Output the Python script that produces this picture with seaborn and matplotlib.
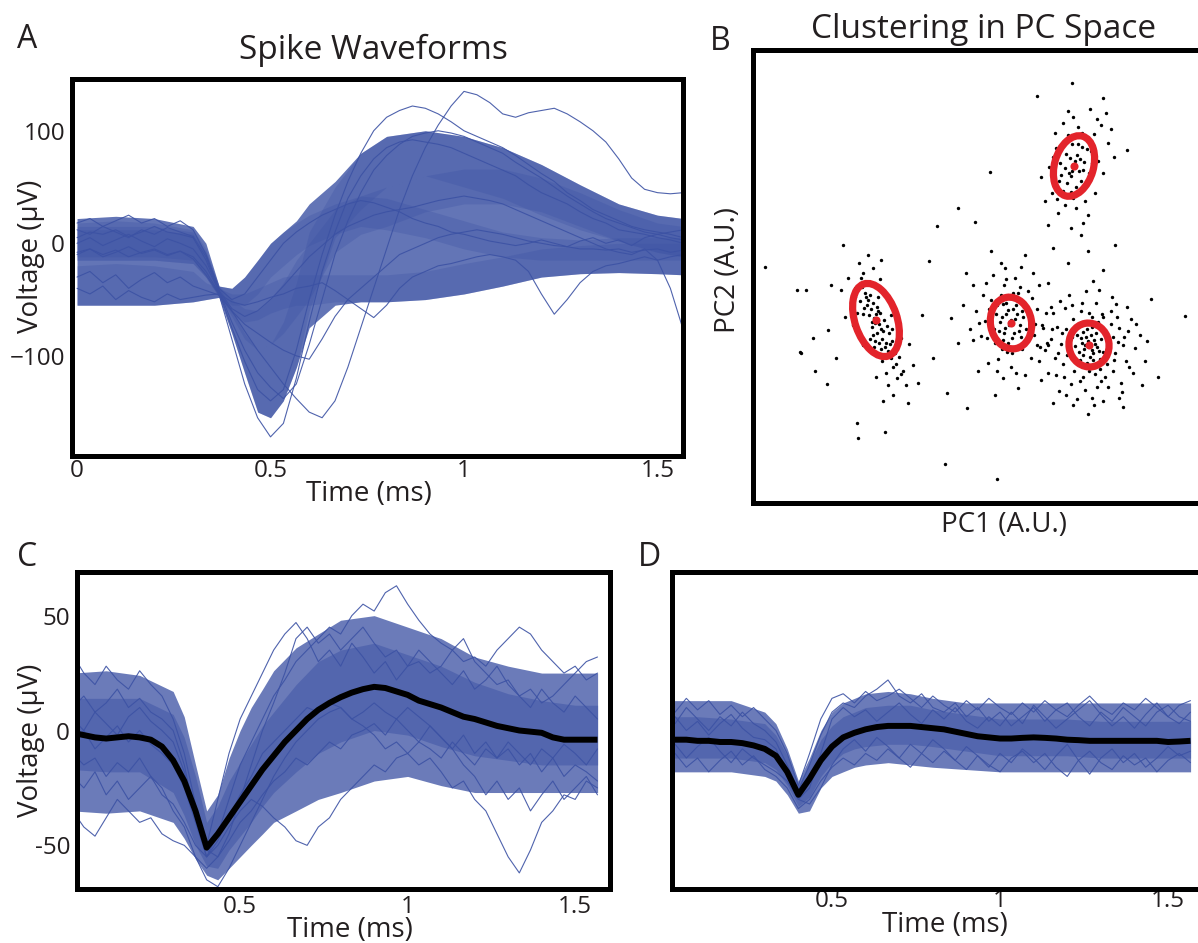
import numpy as np
import pandas as pd
import matplotlib
matplotlib.use("Agg")
import matplotlib.pyplot as plt
from matplotlib.patches import Ellipse
import seaborn as sns

# ------------------------------------------------------------------ data
SAMPLE_RATE_KHZ = 30.0
N_SAMPLES = 48
time_ms = np.arange(N_SAMPLES) / SAMPLE_RATE_KHZ

# envelope nodes (ms) used for the dense bundles of waveforms
band_t = [0, 0.1, 0.2, 0.3, 0.333, 0.367, 0.4, 0.433, 0.467, 0.5, 0.533, 0.567,
          0.6, 0.667, 0.733, 0.8, 0.9, 1.0, 1.1, 1.2, 1.3, 1.4, 1.5, 1.567]

# Panel A: overall envelope of all waveforms plus four unit bundles (uV)
A_all_lo = [-55, -55, -55, -52, -50, -48, -80, -115, -150, -155, -140, -110, -75, -55, -52, -52, -50, -45, -38, -30, -27, -26, -27, -28]
A_all_hi = [22, 24, 22, 15, 0, -38, -40, -30, -15, 0, 10, 20, 35, 55, 80, 95, 100, 95, 85, 70, 52, 35, 25, 22]
A_u1_lo = [-15, -15, -15, -18, -30, -48, -80, -115, -150, -155, -140, -110, -60, 5, 30, 50, 60, 50, 40, 25, 12, 2, -8, -12]
A_u1_hi = [18, 20, 18, 12, -5, -38, -60, -80, -95, -90, -70, -35, 10, 50, 80, 95, 100, 95, 85, 70, 52, 35, 25, 22]
A_u2_lo = [-12, -12, -12, -15, -30, -47, -65, -85, -95, -90, -80, -65, -50, -8, 8, 15, 28, 35, 35, 28, 15, 2, -8, -12]
A_u2_hi = [15, 15, 15, 10, -8, -38, -50, -58, -60, -50, -35, -15, 0, 30, 42, 50, 60, 66, 66, 58, 45, 30, 18, 15]
A_u3_lo = [-15, -15, -15, -18, -30, -47, -55, -55, -45, -30, -20, -10, -2, 8, 15, 12, 5, -5, -12, -15, -15, -15, -15, -15]
A_u3_hi = [12, 12, 12, 8, -8, -38, -40, -30, -15, 0, 10, 18, 25, 35, 42, 40, 30, 20, 10, 5, 3, 5, 5, 5]
A_u4_lo = [-55, -55, -55, -52, -50, -48, -62, -70, -68, -62, -58, -55, -55, -52, -52, -52, -50, -45, -38, -30, -27, -26, -27, -28]
A_u4_hi = [-20, -18, -20, -25, -35, -40, -45, -45, -40, -35, -30, -28, -28, -28, -28, -28, -25, -18, -12, -5, -2, 0, 0, 0]

# Panel A: individual outlying waveforms (uV, one value per sample)
A_tr1 = [-8, -5, -10, -6, -12, -8, -5, -10, -7, -12, -25, -44, -60, -78, -95, -110, -125, -138, -150, -155, -140,
         -110, -75, -40, -5, 30, 60, 85, 105, 122, 135, 132, 125, 115, 112, 116, 118, 120, 115, 108, 100,
         90, 75, 58, 48, 45, 44, 45]
A_tr2 = [5, 10, 8, 12, 6, 10, 15, 10, 8, 5, -15, -43, -75, -105, -130, -140, -130, -95, -50, -10, 25,
         55, 80, 100, 112, 118, 122, 120, 115, 108, 100, 95, 90, 85, 78, 70, 62, 55, 45, 38, 30,
         25, 20, 15, 12, 10, 8, 5]
A_tr3 = [-10, -5, -12, -8, -3, -9, -6, -11, -7, -14, -28, -45, -85, -125, -155, -172, -160, -120, -70, -25, 10,
         40, 60, 75, 85, 90, 92, 90, 88, 85, 80, 75, 70, 65, 60, 52, 45, 40, 35, 28, 22,
         18, 12, 10, 8, 5, 3, 0]
A_tr4 = [-30, -25, -35, -28, -40, -32, -26, -35, -30, -38, -42, -46, -60, -72, -80, -88, -95, -100, -103, -85, -65,
         -50, -40, -30, -20, -10, -5, 0, 5, 8, 10, 12, 10, 8, 5, 2, 0, -2, -3, -5, -5,
         -6, -5, -8, -6, -5, -8, -6]
A_tr5 = [-40, -45, -38, -50, -42, -48, -52, -45, -50, -48, -46, -45, -52, -55, -52, -48, -45, -40, -38, -35, -42,
         -50, -58, -66, -55, -40, -30, -25, -20, -18, -15, -12, -10, -12, -15, -25, -45, -63, -50, -35, -25,
         -20, -18, -15, -12, -15, -12, -10]
A_tr6 = [0, 5, -2, 3, 8, 2, -3, 4, 0, -5, -20, -42, -58, -65, -60, -50, -38, -25, -12, -2, 8,
         15, 20, 25, 28, 30, 32, 35, 38, 40, 42, 40, 38, 35, 30, 25, 20, 15, 10, 5, 0,
         -5, -8, -10, -5, -15, -40, -77]
A_tr7 = [18, 22, 15, 20, 25, 18, 22, 15, 20, 12, -10, -40, -50, -45, -30, -15, 0, 10, 18, 25, 30,
         35, 38, 36, 32, 28, 22, 18, 15, 10, 8, 5, 2, 0, -2, 0, 3, 0, -3, 2, 5,
         0, 3, -2, 5, 8, 10, 12]
A_tr8 = [12, 8, 15, 10, 5, 12, 8, 14, 10, 6, -12, -42, -70, -95, -115, -128, -138, -125, -90, -50, -10,
         20, 45, 65, 78, 88, 95, 98, 100, 98, 95, 90, 85, 80, 72, 65, 58, 50, 42, 35, 28,
         22, 18, 14, 10, 8, 5, 3]

# Panel B: PCA scores (A.U.), one list of (PC1, PC2) per cluster
pts_left = [(12.1, 18.5), (12.6, 17.9), (11.8, 19.4), (13.0, 17.2), (11.5, 20.3), (12.9, 16.4), (12.3, 18.9),
            (11.9, 17.6), (12.7, 19.0), (13.3, 16.0), (11.2, 21.0), (12.0, 20.0), (13.5, 15.2), (12.4, 17.0),
            (11.6, 18.8), (13.1, 18.3), (12.2, 16.2), (11.4, 19.8), (12.8, 15.4), (13.8, 14.5), (10.9, 21.6),
            (12.5, 20.6), (11.0, 18.9), (13.6, 17.0), (12.1, 15.6), (10.7, 20.2), (13.9, 16.2), (11.3, 22.1),
            (12.9, 14.2), (14.2, 15.0), (10.4, 19.0), (12.6, 21.5), (14.0, 13.6), (11.0, 23.0), (13.3, 13.0),
            (10.2, 21.5), (14.6, 14.6), (9.8, 20.0), (12.0, 23.5), (14.4, 12.5), (13.8, 18.8), (10.5, 17.2),
            (15.0, 13.2), (9.5, 22.5), (12.8, 24.3), (14.8, 16.5), (10.0, 17.8), (13.5, 11.8), (11.5, 24.8),
            (15.3, 11.8), (9.2, 18.6), (14.0, 10.8), (16.0, 13.8), (8.8, 21.3), (11.0, 15.8), (15.6, 15.9),
            (12.3, 12.6), (10.6, 24.0), (13.0, 10.2), (16.5, 12.0),
            (12.2, 18.0), (12.5, 19.2), (11.9, 18.1), (12.8, 17.4), (11.7, 20.8), (13.2, 15.6), (12.4, 19.6),
            (11.3, 20.6), (13.4, 17.7), (12.0, 16.8), (11.1, 19.5), (13.7, 15.9), (12.6, 16.0), (10.8, 22.5),
            (14.3, 13.9), (12.7, 22.4), (11.7, 16.4), (13.9, 17.4), (10.2, 20.6), (14.8, 12.9)]
pts_mid = [(25.8, 18.3), (25.2, 17.5), (26.4, 18.9), (25.5, 19.3), (26.1, 17.0), (24.9, 18.6), (26.7, 17.8),
           (25.9, 16.5), (25.3, 20.0), (26.3, 19.8), (24.6, 17.2), (27.0, 18.6), (25.0, 16.3), (26.8, 16.6),
           (25.7, 20.6), (24.3, 18.9), (27.3, 17.4), (26.0, 15.6), (24.8, 20.8), (27.2, 19.8), (23.9, 17.6),
           (26.5, 21.0), (25.4, 15.1), (27.8, 18.0), (23.6, 19.4), (26.9, 15.4), (24.2, 16.0), (28.1, 16.8),
           (25.1, 21.8), (23.2, 18.2), (27.5, 21.2), (24.5, 14.4), (28.4, 19.4), (22.8, 16.7), (26.2, 22.5),
           (27.8, 14.5), (23.0, 20.8), (29.0, 17.5), (25.8, 13.6), (22.3, 19.2), (24.0, 22.8), (28.6, 21.8),
           (23.5, 14.0), (21.7, 17.4), (26.8, 23.6), (29.5, 15.8), (25.0, 12.5), (22.0, 21.8), (27.2, 12.8),
           (21.0, 19.8), (24.8, 24.0), (29.8, 19.6), (22.5, 13.2), (20.5, 16.0), (23.8, 25.2), (26.5, 11.5),
           (21.3, 23.0), (28.8, 12.3), (19.8, 18.5), (24.2, 10.8),
           (25.6, 17.8), (26.2, 18.4), (25.3, 18.9), (26.0, 19.4), (25.1, 17.0), (26.6, 17.2), (24.7, 18.1),
           (26.9, 19.2), (25.5, 16.0), (26.4, 20.3), (24.4, 19.8), (27.5, 18.8), (25.9, 15.0), (24.1, 17.4),
           (27.0, 16.0), (25.0, 19.9), (26.7, 21.6), (23.4, 16.5), (28.2, 17.9), (24.9, 15.4), (23.8, 20.3),
           (27.9, 20.5), (25.3, 22.4), (22.6, 18.0), (28.7, 15.6), (24.4, 13.2), (26.3, 13.0), (22.0, 16.3),
           (29.3, 19.0), (23.3, 22.0)]
pts_right = [(33.6, 15.9), (33.1, 15.4), (34.1, 16.3), (33.3, 16.6), (34.0, 15.0), (32.9, 16.0), (34.4, 15.6),
             (33.7, 14.6), (33.0, 17.1), (34.3, 17.0), (32.6, 15.1), (34.8, 16.4), (33.4, 14.0), (32.4, 16.8),
             (35.0, 15.1), (33.9, 17.6), (32.7, 14.3), (34.7, 14.4), (32.2, 15.7), (35.2, 16.9), (33.2, 18.0),
             (34.5, 18.1), (31.9, 16.6), (35.5, 15.7), (33.8, 13.5), (31.8, 14.6), (35.4, 13.9), (32.5, 17.9),
             (36.0, 16.6), (31.5, 15.6), (34.2, 12.9), (33.0, 12.6), (36.2, 15.0), (31.3, 17.4), (35.0, 18.6),
             (32.1, 13.2), (36.6, 17.5), (30.8, 15.9), (34.8, 12.2), (33.6, 19.0), (31.0, 13.9), (37.0, 15.8),
             (32.8, 19.2), (36.0, 13.2), (30.4, 17.6), (35.8, 19.2), (31.8, 11.9), (37.3, 14.2), (30.2, 14.5),
             (34.3, 20.0), (33.2, 11.3), (37.5, 17.2), (29.8, 16.4), (35.5, 11.6), (31.2, 19.5), (36.8, 12.0),
             (29.5, 13.0), (33.9, 10.5), (38.2, 15.5), (30.0, 19.0), (32.4, 10.4), (36.3, 19.9), (38.0, 13.0),
             (29.2, 15.3), (35.0, 10.2), (31.6, 20.8), (37.8, 18.4), (30.6, 11.2), (34.6, 21.3), (38.7, 16.8),
             (28.6, 14.2), (36.6, 10.5), (32.0, 9.8), (28.9, 17.8), (39.2, 14.2), (33.5, 8.9), (37.0, 9.6),
             (30.0, 10.0), (34.0, 22.2), (38.9, 11.8),
             (33.5, 16.2), (33.9, 15.3), (33.2, 15.8), (34.2, 15.9), (33.8, 16.8), (33.0, 14.8), (34.6, 15.2),
             (32.8, 16.5), (34.0, 14.3), (33.4, 17.4), (34.9, 17.4), (32.3, 14.4), (35.3, 14.8), (33.6, 13.2),
             (32.1, 17.2), (34.7, 13.4), (35.6, 16.3), (31.6, 16.1), (33.1, 13.6), (34.9, 18.9), (32.0, 18.4),
             (36.1, 14.3), (31.4, 14.8), (33.9, 18.6), (35.8, 17.9), (30.9, 17.0), (32.7, 12.2), (36.5, 16.1),
             (34.4, 11.6), (31.1, 12.6), (30.5, 15.0), (37.1, 16.6), (35.2, 12.6), (32.9, 20.0), (36.4, 18.6),
             (29.9, 17.4), (31.9, 19.8), (37.6, 13.6), (30.3, 12.8), (35.9, 20.6), (33.3, 21.2), (29.4, 16.0),
             (38.3, 17.9), (34.1, 9.8), (31.3, 10.8), (36.9, 11.1), (28.4, 15.8), (30.7, 20.2), (37.4, 19.6),
             (39.4, 16.2)]
pts_top = [(32.1, 33.8), (32.4, 34.8), (31.8, 32.7), (32.6, 33.2), (31.7, 34.5), (32.9, 35.6), (31.4, 32.0),
           (32.3, 31.6), (31.9, 35.9), (33.1, 34.1), (31.2, 33.5), (32.8, 32.2), (33.3, 36.6), (31.0, 31.2),
           (32.0, 30.5), (31.5, 36.8), (33.6, 33.0), (30.7, 34.0), (33.8, 35.2), (30.6, 32.2), (32.5, 37.6),
           (31.2, 29.8), (34.1, 36.9), (30.3, 35.5), (33.2, 30.2), (29.9, 31.0), (34.5, 34.2), (32.0, 38.6),
           (30.5, 29.0), (34.8, 37.8), (29.6, 33.6), (33.5, 28.8), (31.0, 38.0), (35.0, 33.0), (29.2, 30.2),
           (33.7, 39.4), (31.8, 27.5), (35.5, 36.0), (28.8, 32.6), (34.2, 31.0), (30.2, 37.0), (35.3, 39.0),
           (29.5, 27.8), (32.8, 26.8), (36.1, 34.6),
           (32.2, 34.2), (31.9, 33.2), (32.7, 34.4), (31.6, 33.0), (32.5, 35.9), (31.3, 34.9), (33.0, 33.3),
           (31.8, 31.1), (32.9, 37.0), (31.1, 36.2), (33.4, 35.4), (30.8, 32.8), (32.3, 29.5), (33.9, 34.0),
           (30.4, 30.4), (34.4, 38.4), (31.5, 39.2), (30.0, 34.6), (33.0, 28.0), (35.8, 37.4)]
pts_noise = [(7.8, 21.8), (5.3, 21.3), (8.3, 14.5), (7.5, 17.3), (4.8, 15.0), (13.2, 7.1), (10.4, 8.0), (15.5, 10.0),
             (9.0, 25.8), (16.9, 18.8), (1.2, 23.6), (6.0, 16.5), (4.7, 15.1), (6.2, 13.2), (7.4, 11.9), (4.4, 21.3),
             (10.5, 6.5), (19.4, 11.0), (21.4, 9.5), (19.2, 3.9), (24.4, 2.4), (23.7, 33.1), (18.4, 27.7),
             (22.2, 28.1), (37.4, 35.3), (43.2, 18.7), (28.4, 40.7), (31.9, 42.0), (35.0, 40.5), (30.0, 25.5),
             (28.0, 23.0), (27.2, 24.8), (31.5, 24.0), (33.5, 25.2), (36.2, 25.8), (29.5, 22.0), (35.0, 23.3),
             (25.2, 23.5), (20.5, 29.5), (17.6, 24.2), (26.0, 21.0), (39.8, 20.4), (40.5, 12.6), (18.0, 14.5)]

# Panel B: Gaussian cluster ellipses (centre, full axes, angle in degrees)
ell_pc1 = [12.3, 25.8, 33.6, 32.1]
ell_pc2 = [18.3, 18.0, 15.8, 33.7]
ell_width = [7.6, 5.2, 4.4, 6.2]
ell_height = [4.2, 4.1, 4.0, 3.9]
ell_angle = [109, 100, 100, 74]

# Panel C: one sorted unit
C_mean = [-1, -2, -3, -3.5, -3, -2.5, -3, -4, -7, -13, -22, -35, -51, -45, -38, -31, -24, -17, -11, -5, 0,
          5, 9, 12, 14.5, 16.5, 18, 19, 18.5, 17, 15.5, 13, 11.5, 10, 8, 6, 5, 3.5, 2, 1, 0,
          -0.5, -1, -3, -4, -4, -4, -4]
C_out_lo = [-35, -36, -35, -40, -47, -56, -63, -65, -60, -55, -50, -45, -40, -35, -30, -27, -22, -20, -24, -27, -27, -27, -27, -27]
C_out_hi = [25, 26, 24, 17, 6, -15, -35, -28, -12, 0, 10, 18, 26, 36, 42, 48, 50, 45, 40, 32, 28, 25, 25, 25]
C_in_lo = [-17, -18, -18, -27, -37, -50, -59, -60, -52, -46, -40, -33, -27, -18, -10, -5, 0, -2, -7, -11, -13, -15, -15, -15]
C_in_hi = [14, 14, 14, 7, -3, -20, -40, -33, -22, -14, -6, 2, 8, 20, 30, 35, 38, 33, 28, 21, 16, 13, 11, 11]
C_tr1 = [-20, -25, -18, -28, -22, -30, -25, -20, -28, -32, -40, -50, -55, -50, -42, -35, -30, -33, -38, -42, -48,
         -50, -42, -38, -30, -25, -20, -15, -18, -12, -10, -5, -8, -12, -5, -10, -15, -8, -12, -5, -10,
         -15, -8, -12, -6, -10, -15, -8]
C_tr2 = [-5, 0, -8, -3, 2, -5, 0, -6, -10, -15, -25, -40, -55, -48, -38, -28, -20, -10, -5, 0, 5,
         10, 8, 12, 10, 5, 2, -2, -8, -5, -10, -15, -12, -18, -25, -22, -30, -35, -45, -55, -62,
         -52, -40, -35, -28, -30, -22, -25]
C_tr3 = [10, 15, 8, 12, 18, 10, 14, 8, 5, 0, -15, -38, -55, -45, -30, -15, -5, 5, 15, 22, 30,
         35, 40, 45, 42, 50, 55, 52, 60, 63, 55, 48, 42, 38, 35, 30, 32, 28, 35, 40, 45,
         42, 35, 30, 25, 28, 22, 25]
C_tr4 = [33, 25, 20, 28, 22, 18, 26, 20, 15, 5, -10, -32, -52, -55, -45, -30, -15, 0, 12, 25, 40,
         45, 38, 42, 35, 40, 45, 38, 32, 35, 28, 30, 25, 28, 35, 40, 30, 25, 20, 22, 15,
         18, 12, 15, 20, 25, 30, 32]
C_tr5 = [-10, -15, -12, -20, -14, -18, -12, -20, -25, -35, -42, -55, -65, -68, -60, -50, -40, -30, -20, -12, -5,
         0, 5, 8, 10, 5, 8, 12, 8, 5, 10, 6, 2, -3, -8, -15, -20, -28, -22, -30, -25,
         -35, -28, -22, -30, -25, -20, -28]
C_tr6 = [-35, -42, -46, -38, -30, -35, -40, -38, -45, -48, -50, -55, -60, -55, -48, -40, -35, -28, -22, -18, -12,
         -15, -10, -5, -8, -2, 0, 3, -2, 5, 0, -5, 2, -3, -8, -2, -10, -5, -12, -8, -15,
         -10, -18, -12, -20, -15, -18, -22]
C_tr7 = [5, 0, 8, 3, -2, 6, 10, 4, 0, -5, -18, -35, -50, -30, -10, 5, 15, 25, 35, 42, 47,
         40, 30, 35, 28, 38, 32, 25, 30, 22, 28, 35, 30, 25, 20, 26, 18, 22, 28, 20, 15,
         10, 18, 12, 8, 15, 10, 5]

# Panel D: a second sorted unit
D_mean = [-4, -4, -4, -4.5, -4.5, -5, -5, -5.5, -6.5, -8, -11, -18, -28, -21, -13, -7, -3, -1, 0.5, 1.5, 2,
          2, 2, 1.5, 1, 0.5, -0.5, -1.5, -2.5, -3, -3.5, -3.5, -3.2, -3, -3.2, -3.5, -4, -4.2, -4.5, -4.5, -4.5,
          -4.5, -4.5, -4.5, -4.5, -5, -4.8, -4.5]
D_out_lo = [-18, -18, -18, -20, -22, -28, -36, -35, -25, -20, -18, -16, -15, -14, -15, -16, -17, -18, -18, -18, -18, -18, -18, -18]
D_out_hi = [13, 13, 13, 8, 3, -8, -22, -12, 0, 8, 12, 14, 16, 17, 16, 14, 12, 12, 12, 12, 12, 12, 12, 12]
D_in_lo = [-12, -12, -12, -14, -17, -24, -33, -29, -20, -14, -10, -8, -7, -6, -6, -7, -9, -11, -11, -11, -12, -12, -12, -12]
D_in_hi = [6, 6, 5, 3, -2, -11, -24, -14, -4, 2, 6, 8, 10, 11, 11, 9, 7, 5, 5, 5, 4, 4, 4, 4]
D_tr1 = [8, 3, 10, 5, 0, 6, 2, 8, 3, 0, -5, -15, -26, -15, -2, 8, 12, 10, 15, 18, 22,
         15, 12, 16, 10, 8, 12, 6, 10, 4, 8, 2, 6, 10, 4, 9, 12, 6, 2, 8, 4,
         10, 6, 2, 8, 11, 6, 4]
D_tr2 = [-15, -10, -16, -12, -18, -13, -9, -15, -11, -17, -20, -25, -34, -30, -22, -16, -12, -15, -10, -13, -8,
         -12, -16, -10, -14, -9, -13, -17, -11, -15, -18, -12, -9, -14, -10, -16, -20, -13, -9, -14, -17,
         -11, -15, -12, -18, -13, -10, -14]
D_tr3 = [2, 6, 0, 4, -2, 3, 7, 1, -3, -4, -8, -20, -30, -25, -10, 5, 10, 6, 9, 4, 8,
         12, 7, 3, 9, 5, 10, 4, 1, 6, 2, 8, 3, 11, 6, 1, 5, 9, 13, 7, 2,
         6, 1, 7, 12, 6, 3, 8]
D_tr4 = [-10, -6, -12, -7, -3, -9, -14, -8, -12, -15, -18, -22, -30, -32, -25, -15, -8, -4, -9, -3, -7,
         -12, -6, -10, -4, -8, -13, -7, -11, -16, -10, -14, -8, -12, -17, -11, -6, -13, -19, -12, -8,
         -14, -10, -16, -12, -7, -11, -9]
D_tr5 = [12, 8, 14, 9, 13, 7, 11, 6, 10, 5, 0, -10, -24, -10, 5, 14, 16, 12, 17, 13, 15,
         18, 14, 10, 15, 11, 8, 13, 9, 14, 10, 7, 12, 8, 13, 9, 6, 11, 15, 10, 7,
         12, 9, 14, 10, 6, 11, 13]

A_xticks = [0, 0.5, 1, 1.5]
A_xticklabels = ["0", "0.5", "1", "1.5"]
A_yticks = [100, 0, -100]
A_yticklabels = ["100", "0", "\u2212100"]
CD_xticks = [0.5, 1, 1.5]
CD_xticklabels = ["0.5", "1", "1.5"]
C_yticks = [50, 0, -50]
C_yticklabels = ["50", "0", "-50"]

# ------------------------------------------------------------------ style
sns.set_theme(style="white")
FONT = ["Open Sans", "DejaVu Sans"]
plt.rcParams["font.family"] = FONT
plt.rcParams["text.color"] = "#231f20"
plt.rcParams["xtick.color"] = "#231f20"
plt.rcParams["ytick.color"] = "#231f20"

BLUE = "#3c52a4"
RED = "#e3242b"
W, H = 1198, 943
TICK_FS = 17.5
LABEL_FS = 20
LETTER_FS = 23

fig = plt.figure(figsize=(W / 100, H / 100), dpi=100)


def box(l, t, r, b):
    return [l / W, 1 - b / H, (r - l) / W, (b - t) / H]


def ftext(x, y, s, **kw):
    fig.text(x / W, 1 - y / H, s, ha="center", va="center", **kw)


def long_df(traces):
    return pd.concat([pd.DataFrame({"t": time_ms, "v": tr, "trace": k}) for k, tr in enumerate(traces)],
                     ignore_index=True)


def style_axes(ax):
    for s in ax.spines.values():
        s.set_visible(True)
        s.set_color("black")
        s.set_linewidth(3.6)
    ax.set_xlabel("")
    ax.set_ylabel("")


def draw_waveforms(ax, bands, traces, mean=None):
    for lo, hi, a in bands:
        ax.fill_between(band_t, lo, hi, color=BLUE, alpha=a, lw=0, zorder=1)
    sns.lineplot(data=long_df(traces), x="t", y="v", units="trace", estimator=None,
                 color=BLUE, lw=0.8, alpha=0.9, ax=ax, legend=False, zorder=2)
    if mean is not None:
        sns.lineplot(x=time_ms, y=mean, color="black", lw=4.3, ax=ax, zorder=3,
                     solid_capstyle="butt", solid_joinstyle="round")


# ---------------- Panel A
axA = fig.add_axes(box(72, 79, 683, 456))
draw_waveforms(axA,
               [(A_all_lo, A_all_hi, 0.8), (A_u4_lo, A_u4_hi, 0.3), (A_u3_lo, A_u3_hi, 0.3),
                (A_u2_lo, A_u2_hi, 0.3), (A_u1_lo, A_u1_hi, 0.3)],
               [A_tr1, A_tr2, A_tr3, A_tr4, A_tr5, A_tr6, A_tr7, A_tr8])
axA.set_xlim(-0.013, 1.566)
axA.set_ylim(-189, 146)
axA.set_xticks(A_xticks, A_xticklabels)
axA.set_yticks(A_yticks, A_yticklabels)
axA.tick_params(axis="both", length=0, labelsize=TICK_FS)
axA.tick_params(axis="x", pad=2)
axA.tick_params(axis="y", pad=5)
style_axes(axA)

# ---------------- Panel B
axB = fig.add_axes(box(753, 50, 1250, 503))
for pts in [pts_left, pts_mid, pts_right, pts_top, pts_noise]:
    arr = np.array(pts)
    sns.scatterplot(x=arr[:, 0], y=arr[:, 1], s=6, color="black", linewidth=0, ax=axB, zorder=2)
for cx, cy, w, h, ang in zip(ell_pc1, ell_pc2, ell_width, ell_height, ell_angle):
    axB.add_patch(Ellipse((cx, cy), w, h, angle=ang, fill=False, edgecolor=RED, lw=5.2, zorder=3))
sns.scatterplot(x=ell_pc1, y=ell_pc2, s=34, color=RED, linewidth=0, ax=axB, zorder=4)
axB.set_xlim(0, 49.7)
axB.set_ylim(0, 45.3)
axB.set_xticks([])
axB.set_yticks([])
style_axes(axB)

# ---------------- Panel C
axC = fig.add_axes(box(77, 572, 610, 889))
draw_waveforms(axC, [(C_out_lo, C_out_hi, 0.76), (C_in_lo, C_in_hi, 0.5)],
               [C_tr1, C_tr2, C_tr3, C_tr4, C_tr5, C_tr6, C_tr7], C_mean)
axC.set_xlim(0.013, 1.604)
axC.set_ylim(-69, 69)
axC.set_xticks(CD_xticks, CD_xticklabels)
axC.set_yticks(C_yticks, C_yticklabels)
axC.tick_params(axis="both", length=0, labelsize=TICK_FS)
axC.tick_params(axis="x", pad=4)
axC.tick_params(axis="y", pad=5)
style_axes(axC)

# ---------------- Panel D
axD = fig.add_axes(box(672, 572, 1240, 889))
draw_waveforms(axD, [(D_out_lo, D_out_hi, 0.76), (D_in_lo, D_in_hi, 0.5)],
               [D_tr1, D_tr2, D_tr3, D_tr4, D_tr5], D_mean)
axD.set_xlim(0.024, 1.714)
axD.set_ylim(-69, 69)
axD.set_xticks(CD_xticks, CD_xticklabels)
axD.set_yticks([])
axD.tick_params(axis="both", length=0, labelsize=TICK_FS)
axD.tick_params(axis="x", pad=0)
style_axes(axD)

# ---------------- texts
ftext(27, 40, "A", fontsize=LETTER_FS)
ftext(720, 42, "B", fontsize=LETTER_FS)
ftext(27, 557, "C", fontsize=LETTER_FS)
ftext(649, 557, "D", fontsize=LETTER_FS)
ftext(373, 50, "Spike Waveforms", fontsize=24)
ftext(984, 30, "Clustering in PC Space", fontsize=24)
ftext(31, 256, "Voltage (\u03bcV)", fontsize=LABEL_FS, rotation=90)
ftext(369, 494, "Time (ms)", fontsize=LABEL_FS)
ftext(728, 270, "PC2 (A.U.)", fontsize=LABEL_FS, rotation=90)
ftext(1004, 525, "PC1 (A.U.)", fontsize=LABEL_FS)
ftext(31, 740, "Voltage (\u03bcV)", fontsize=LABEL_FS, rotation=90)
ftext(350, 930, "Time (ms)", fontsize=LABEL_FS)
ftext(945, 925, "Time (ms)", fontsize=LABEL_FS)

fig.savefig("out.png", dpi=100, facecolor="white")
